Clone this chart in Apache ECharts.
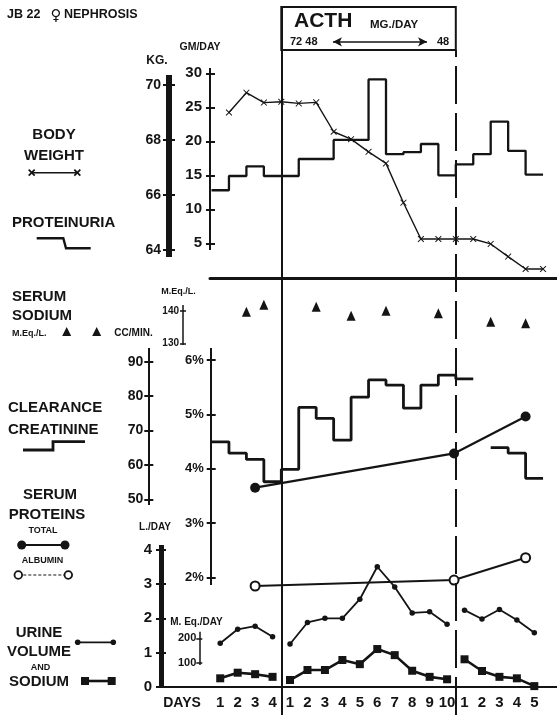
<!DOCTYPE html>
<html><head><meta charset="utf-8">
<script src="https://cdn.jsdelivr.net/npm/echarts@6/dist/echarts.min.js"></script>
<style>html,body{margin:0;padding:0;background:#fff}#c{width:557px;height:715px}</style>
</head><body><div id="c"></div>
<script>
// ---------------- DATA ----------------
const dayLabels = ['1','2','3','4','1','2','3','4','5','6','7','8','9','10','1','2','3','4','5'];
const acthStart = 4, acthEnd = 14;           // ACTH period (day-boundaries)
const proteinuria = [12.8, 14.9, 16.3, 14.9, 14.9, 17.4, 17.4, 20.2, 20.2, 29.1, 18.1, 18.4, 19.6, 15.0, 16.6, 18.1, 22.9, 18.6, 15.1]; // GM/DAY
const weightKg = [69.0, 69.72, 69.36, 69.39, 69.33, 69.37, 68.3, 68.03, 67.57, 67.15, 65.72, 64.4, 64.4, 64.4, 64.4, 64.22, 63.76, 63.31, 63.31]; // end of each day
const serumNaDay = [2, 3, 6, 8, 10, 13, 16, 18];
const serumNa = [139.8, 141.9, 141.3, 138.5, 140.1, 139.3, 136.7, 136.2];   // M.Eq./L.
const clearance = [66.7, 63.4, 61.6, 55.1, 58.7, 76.7, 73.5, 67.2, 79.7, 84.7, 83.2, 76.5, 83.2, 86.1, 85.0, null, 65.0, 63.4, 56.1]; // CC/MIN
const proteinDay = [2.5, 13.9, 18];
const totalProtein = [3.65, 4.28, 4.96];    // %
const albumin = [1.84, 1.95, 2.36];         // %
const urineVolume = [1.27, 1.68, 1.77, 1.46, 1.25, 1.88, 2.0, 2.0, 2.56, 3.51, 2.92, 2.16, 2.19, 1.83, 2.24, 1.98, 2.26, 1.95, 1.58]; // L/DAY
const urineSodium = [36, 59, 53, 42, 29, 70, 70, 111, 94, 156, 131, 67, 42, 32, 114, 66, 42, 36, 4]; // M.Eq./DAY

// ---------------- LAYOUT ----------------
const W = 557;
const X0 = 211.5, DX = 17.45;
const INK = '#141414';
const FONT = '"Liberation Sans", Arial, sans-serif';

function cal(vTop, pTop, vBot, pBot, top, bottom) {
  const k = (vTop - vBot) / (pBot - pTop);
  return { min: vBot - (bottom - pBot) * k, max: vTop + (pTop - top) * k };
}
const grids = [], xAxes = [], yAxes = [];
function addGrid(left, top, bottom, xOpts) {
  const gi = grids.length;
  grids.push({ left: left, right: 0, top: top, height: bottom - top, containLabel: false, outerBoundsMode: 'none' });
  xAxes.push(Object.assign({ gridIndex: gi, type: 'value', min: (left - X0) / DX, max: (W - X0) / DX, show: false, splitLine: { show: false } }, xOpts || {}));
  return gi;
}
function addY(gi, range, ticks, o) {
  o = o || {};
  const base = { gridIndex: gi, type: 'value', position: 'left', min: range.min, max: range.max, splitLine: { show: false } };
  const idx = yAxes.length;
  const lbl = { show: true, customValues: ticks, margin: o.margin || 6, color: INK, fontFamily: FONT, fontWeight: 'bold', fontSize: o.fontSize || 14 };
  if (o.formatter) lbl.formatter = o.formatter;
  yAxes.push(Object.assign({}, base, {
    axisLine: { show: true, onZero: false, lineStyle: { color: INK, width: o.lineWidth || 2, cap: 'butt' } },
    axisTick: { show: true, customValues: ticks, length: o.tickOut || 4, lineStyle: { color: INK, width: o.tickWidth || 2 } },
    axisLabel: lbl
  }));
  yAxes.push(Object.assign({}, base, {
    axisLine: { show: false, onZero: false },
    axisTick: { show: true, inside: true, customValues: ticks, length: o.tickIn || 5, lineStyle: { color: INK, width: o.tickWidth || 2 } },
    axisLabel: { show: false }
  }));
  return idx;
}
function hiddenY(gi) { yAxes.push({ gridIndex: gi, type: 'value', min: 0, max: 1, show: false }); return yAxes.length - 1; }

// proteinuria / weight panel
const gTop = addGrid(210, 68, 250, { show: true, position: 'bottom', offset: 28,
  axisLine: { show: true, onZero: false, lineStyle: { color: INK, width: 3 } }, axisTick: { show: false }, axisLabel: { show: false } });
const yGM = addY(gTop, cal(30, 73.3, 5, 243.3, 68, 250), [5, 10, 15, 20, 25, 30], { margin: 8, fontSize: 15 });
const gKg = addGrid(169, 75, 257);
const yKG = addY(gKg, cal(70, 85, 64, 250, 75, 257), [64, 66, 68, 70], { lineWidth: 6, tickOut: 6, tickIn: 6, margin: 8, fontSize: 14 });
// serum sodium
const gNa = addGrid(183, 305, 345);
const yNa = addY(gNa, cal(140, 311, 130, 343.3, 305, 345), [130, 140], { lineWidth: 1.5, tickWidth: 1.5, tickOut: 3, tickIn: 3, margin: 4, fontSize: 10 });
// clearance
const gCC = addGrid(148.3, 348, 505);
const yCC = addY(gCC, cal(90, 361.7, 50, 499.3, 348, 505), [50, 60, 70, 80, 90], { margin: 5, fontSize: 14 });
// serum proteins %
const gPct = addGrid(210.7, 348, 585);
const yPct = addY(gPct, cal(6, 360, 2, 577.3, 348, 585), [2, 3, 4, 5, 6], { margin: 7, fontSize: 13, formatter: v => v + '%' });
// urine volume
const gL = addGrid(161, 545, 686.7, { show: true, position: 'bottom',
  axisLine: { show: true, onZero: false, lineStyle: { color: INK, width: 2 } }, axisTick: { show: false },
  axisLabel: { show: true, customValues: dayLabels.map((d, i) => i + 0.5), margin: 9, color: INK, fontFamily: FONT, fontWeight: 'bold', fontSize: 15,
    formatter: v => dayLabels[Math.round(v - 0.5)] } });
const yL = addY(gL, cal(4, 550, 0, 686.7, 545, 686.7), [0, 1, 2, 3, 4], { lineWidth: 5, tickOut: 5, tickIn: 5, margin: 9, fontSize: 15 });
// urine sodium
const gUNa = addGrid(199.3, 631.7, 665);
const yUNa = addY(gUNa, cal(200, 638.3, 100, 662.7, 631.7, 665), [100, 200], { lineWidth: 1.5, tickWidth: 1.5, tickOut: 3, tickIn: 3, margin: 3, fontSize: 11 });
// frames
const gFA = addGrid(X0, 7, 715); const yFA = hiddenY(gFA);
const gFB = addGrid(X0, 50, 715); const yFB = hiddenY(gFB);
const gBox = addGrid(X0, 7, 50); const yBox = hiddenY(gBox);

function stepPairs(vals) {
  const out = [];
  vals.forEach((y, i) => { if (y == null) { out.push([i, '-']); } else { out.push([i, y], [i + 1, y]); } });
  return out;
}
const XPATH = 'path://M0 1 L1 0 L5 4 L9 0 L10 1 L6 5 L10 9 L9 10 L5 6 L1 10 L0 9 L4 5 Z';
const common = { silent: true, animation: false, clip: false };
const series = [];
series.push(Object.assign({ type: 'line', xAxisIndex: gTop, yAxisIndex: yGM, data: stepPairs(proteinuria), symbol: 'none',
  lineStyle: { color: INK, width: 2.3 }, z: 3 }, common));
series.push(Object.assign({ type: 'line', xAxisIndex: gKg, yAxisIndex: yKG, data: weightKg.map((w, i) => [i + 1, w]), symbol: XPATH, symbolSize: 6.5,
  itemStyle: { color: INK }, lineStyle: { color: INK, width: 1.4 }, z: 4 }, common));
series.push(Object.assign({ type: 'scatter', xAxisIndex: gNa, yAxisIndex: yNa, data: serumNaDay.map((d, i) => [d, serumNa[i]]), symbol: 'triangle', symbolSize: [9, 10],
  itemStyle: { color: INK, opacity: 1 } }, common));
series.push(Object.assign({ type: 'line', xAxisIndex: gCC, yAxisIndex: yCC, data: stepPairs(clearance), symbol: 'none', connectNulls: false,
  lineStyle: { color: INK, width: 2.8 }, z: 3 }, common));
series.push(Object.assign({ type: 'line', xAxisIndex: gPct, yAxisIndex: yPct, data: proteinDay.map((d, i) => [d, totalProtein[i]]), symbol: 'circle', symbolSize: 10,
  itemStyle: { color: INK }, lineStyle: { color: INK, width: 2.2 }, z: 4 }, common));
series.push(Object.assign({ type: 'line', xAxisIndex: gPct, yAxisIndex: yPct, data: proteinDay.map((d, i) => [d, albumin[i]]), symbol: 'emptyCircle', symbolSize: 9,
  itemStyle: { color: INK, borderWidth: 2 }, lineStyle: { color: INK, width: 2 }, z: 4 }, common));
[[0, acthStart], [acthStart, acthEnd], [acthEnd, dayLabels.length]].forEach(([a, b]) => {
  const vol = [], na = [];
  for (let i = a; i < b; i++) { vol.push([i + 0.5, urineVolume[i]]); na.push([i + 0.5, urineSodium[i]]); }
  series.push(Object.assign({ type: 'line', xAxisIndex: gL, yAxisIndex: yL, data: vol, symbol: 'circle', symbolSize: 5.5,
    itemStyle: { color: INK }, lineStyle: { color: INK, width: 1.8 }, z: 4 }, common));
  series.push(Object.assign({ type: 'line', xAxisIndex: gUNa, yAxisIndex: yUNa, data: na, symbol: 'rect', symbolSize: 8,
    itemStyle: { color: INK }, lineStyle: { color: INK, width: 2.6 }, z: 4 }, common));
});
// period dividers and ACTH box
series.push(Object.assign({ type: 'line', xAxisIndex: gFA, yAxisIndex: yFA, data: [],
  markLine: { silent: true, symbol: 'none', label: { show: false }, lineStyle: { color: INK, width: 2, type: 'solid' }, data: [{ xAxis: acthStart }] } }, common));
series.push(Object.assign({ type: 'line', xAxisIndex: gFB, yAxisIndex: yFB, data: [],
  markLine: { silent: true, symbol: 'none', label: { show: false }, lineStyle: { color: INK, width: 2, type: [38, 9] }, data: [{ xAxis: acthEnd }] } }, common));
series.push(Object.assign({ type: 'line', xAxisIndex: gBox, yAxisIndex: yBox, data: [],
  markArea: { silent: true, label: { show: false }, itemStyle: { color: 'rgba(0,0,0,0)', borderColor: INK, borderWidth: 2 }, data: [[{ xAxis: acthStart }, { xAxis: acthEnd }]] },
  markLine: { silent: true, symbol: ['arrow', 'arrow'], symbolSize: [7, 9], label: { show: false }, lineStyle: { color: INK, width: 1.5, type: 'solid' },
    data: [[{ coord: [6.96, 0.19] }, { coord: [12.35, 0.19] }]] } }, common));

// ---------------- TEXT / LEGEND GLYPHS ----------------
function T(text, x, y, size, align) {
  return { type: 'text', x: x, y: y, silent: true, style: { text: text, fill: INK, font: 'bold ' + size + 'px ' + FONT, align: align || 'left', verticalAlign: 'middle' } };
}
function P(points, w, dash) { return { type: 'polyline', silent: true, shape: { points: points }, style: { stroke: INK, lineWidth: w, fill: null, lineDash: dash || null } }; }
function C(cx, cy, r, filled) { return { type: 'circle', silent: true, shape: { cx: cx, cy: cy, r: r }, style: filled ? { fill: INK } : { fill: '#fff', stroke: INK, lineWidth: 1.8 } }; }
function TRI(x, y) { return { type: 'polygon', silent: true, shape: { points: [[x, y - 5], [x + 4.5, y + 4], [x - 4.5, y + 4]] }, style: { fill: INK } }; }
function SQ(x, y, s) { return { type: 'rect', silent: true, shape: { x: x - s / 2, y: y - s / 2, width: s, height: s }, style: { fill: INK } }; }
function XM(x, y) { return [P([[x - 3, y - 3], [x + 3, y + 3]], 1.8), P([[x - 3, y + 3], [x + 3, y - 3]], 1.8)]; }

const graphic = [
  T('JB 22', 7, 15, 12.5),
  { type: 'text', x: 56, y: 16, silent: true, style: { text: '\u2640', fill: INK, font: 'bold 15px "DejaVu Sans", sans-serif', align: 'center', verticalAlign: 'middle' } },
  T('NEPHROSIS', 64, 15, 12.5),
  T('KG.', 157, 61, 12, 'center'),
  T('GM/DAY', 200, 47, 10.5, 'center'),
  T('BODY', 54, 135, 15, 'center'),
  T('WEIGHT', 54, 156, 15, 'center'),
  P([[31.7, 172.7], [77.3, 172.7]], 1.4), ...XM(31.7, 172.7), ...XM(77.3, 172.7),
  T('PROTEINURIA', 12, 223, 15),
  P([[36.7, 238.3], [63.3, 238.3], [66, 248.3], [90.7, 248.3]], 2.4),
  T('SERUM', 12, 297, 15),
  T('SODIUM', 12, 316, 15),
  T('M.Eq./L.', 12, 334, 9),
  TRI(66.7, 332), TRI(96.7, 332),
  T('CC/MIN.', 133.5, 333.5, 10, 'center'),
  T('M.Eq./L.', 178.5, 292, 9, 'center'),
  T('CLEARANCE', 8, 408, 15),
  T('CREATININE', 8, 430, 15),
  P([[23, 450], [53, 450], [53, 441.7], [85, 441.7]], 2.8),
  T('SERUM', 50, 495, 15, 'center'),
  T('PROTEINS', 47, 515, 15, 'center'),
  T('TOTAL', 43, 531, 9, 'center'),
  P([[21.7, 545], [65, 545]], 2), C(21.7, 545, 4.5, true), C(65, 545, 4.5, true),
  T('ALBUMIN', 42.5, 561, 9, 'center'),
  P([[18.3, 575], [68.3, 575]], 1.2, [3, 2]), C(18.3, 575, 3.8, false), C(68.3, 575, 3.8, false),
  T('L./DAY', 155, 527.5, 10, 'center'),
  T('URINE', 39, 632.5, 15, 'center'),
  T('VOLUME', 39, 652, 15, 'center'),
  T('AND', 40.5, 667.5, 9, 'center'),
  T('SODIUM', 39, 682, 15, 'center'),
  P([[77.7, 642.3], [113.3, 642.3]], 1.8), C(77.7, 642.3, 2.8, true), C(113.3, 642.3, 2.8, true),
  P([[85, 681], [111.7, 681]], 2.6), SQ(85, 681, 8), SQ(111.7, 681, 8),
  T('M. Eq./DAY', 196.5, 622, 10, 'center'),
  T('DAYS', 182, 703.5, 14, 'center'),
  T('ACTH', 294, 21, 21),
  T('MG./DAY', 370, 25, 11.5),
  T('72 48', 290, 42, 11),
  T('48', 437, 42, 11)
];

const chart = echarts.init(document.getElementById('c'), null, { renderer: 'canvas' });
chart.setOption({
  animation: false,
  backgroundColor: '#fff',
  grid: grids, xAxis: xAxes, yAxis: yAxes, series: series, graphic: graphic
});
</script>
</body></html>
